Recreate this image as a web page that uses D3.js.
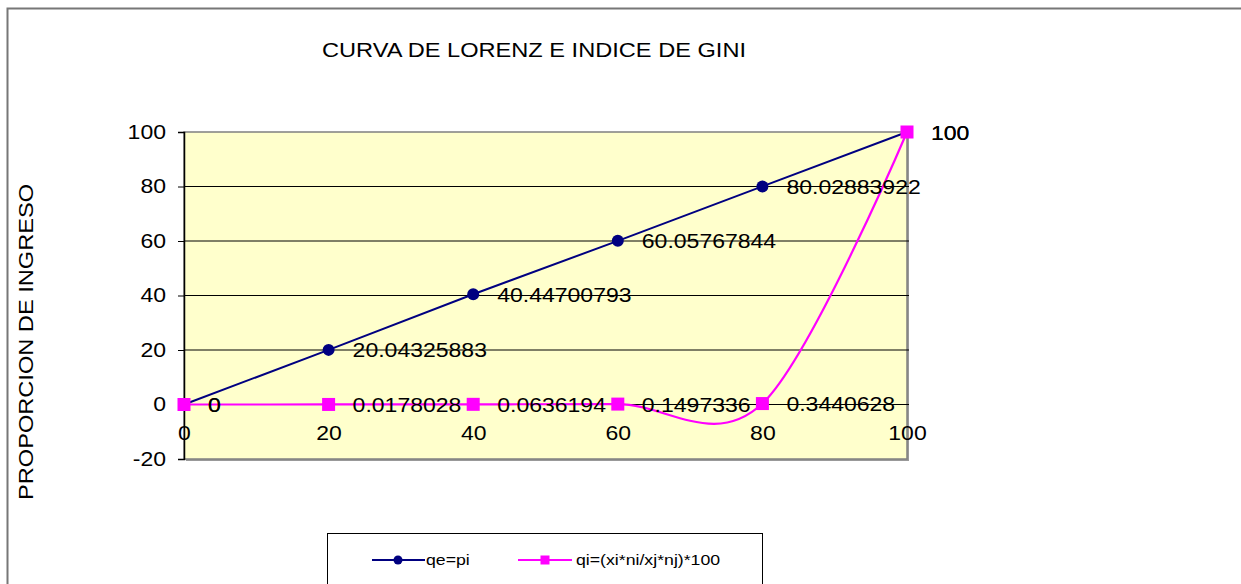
<!DOCTYPE html>
<html>
<head>
<meta charset="utf-8">
<script src="https://cdn.jsdelivr.net/npm/d3@7"></script>
<style>
body{margin:0;background:#fff;}
text{font-family:Arial,"Liberation Sans",sans-serif;fill:#000;}
</style>
</head>
<body>
<script>
// datos de la curva de Lorenz
var xVals = [0, 20, 40, 60, 80, 100];
var qe = [0, 20.04325883, 40.44700793, 60.05767844, 80.02883922, 100];
var qi = [0, 0.0178028, 0.0636194, 0.1497336, 0.3440628, 100];
var qeLabels = ["0", "20.04325883", "40.44700793", "60.05767844", "80.02883922", "100"];
var qiLabels = ["0", "0.0178028", "0.0636194", "0.1497336", "0.3440628", "100"];
var yTicks = [-20, 0, 20, 40, 60, 80, 100];
var xTicks = [0, 20, 40, 60, 80, 100];

draw();
function draw(){
	var W = 1241, H = 584;
	var svg = d3.select("body").append("svg").attr("width", W).attr("height", H);

	// marco exterior
	svg.append("rect").attr("x", 7.5).attr("y", 8.5).attr("width", 1300).attr("height", 700)
		.attr("fill", "white").attr("stroke", "#777").attr("stroke-width", 2);

	var pLeft = 184, pRight = 907, pTop = 132, pBottom = 459;
	var x = d3.scaleLinear().domain([0, 100]).range([pLeft, pRight]);
	var y = d3.scaleLinear().domain([-20, 100]).range([pBottom, pTop]);

	// area de trazado
	svg.append("rect").attr("x", pLeft + 2).attr("y", pTop + 2).attr("width", pRight - pLeft).attr("height", pBottom - pTop)
		.attr("fill", "#999");
	svg.append("rect").attr("x", pLeft).attr("y", pTop).attr("width", pRight - pLeft).attr("height", pBottom - pTop)
		.attr("fill", "#FFFFCC").attr("stroke", "#808080").attr("stroke-width", 1.5);

	// lineas de division
	svg.append("g").selectAll("line").data(yTicks.filter(function(d){ return d > -20 && d < 100; }))
		.enter().append("line")
		.attr("x1", pLeft).attr("x2", pRight + 2)
		.attr("y1", function(d){ return y(d); }).attr("y2", function(d){ return y(d); })
		.attr("stroke", "#000").attr("stroke-width", 1);

	// eje y
	var yAxis = svg.append("g").attr("transform", "translate(" + pLeft + ",0)")
		.call(d3.axisLeft(y).tickValues(yTicks).tickSize(6).tickPadding(12).tickFormat(function(d){ return String(d); }));
	yAxis.select(".domain").attr("stroke", "#000").attr("stroke-width", 1.5);
	yAxis.selectAll("text").attr("font-size", 19.5).attr("font-family", "Arial, Liberation Sans, sans-serif").attr("fill", "#000");

	// eje x (cruza en 0)
	var xAxis = svg.append("g").attr("transform", "translate(0," + y(0) + ")")
		.call(d3.axisBottom(x).tickValues(xTicks).tickSize(0).tickPadding(22).tickFormat(function(d){ return String(d); }));
	xAxis.select(".domain").remove();
	xAxis.selectAll("text").attr("font-size", 19.5).attr("font-family", "Arial, Liberation Sans, sans-serif").attr("fill", "#000");

	// serie qe=pi
	var lineStraight = d3.line().x(function(d, i){ return x(xVals[i]); }).y(function(d){ return y(d); });
	svg.append("path").datum(qe).attr("d", lineStraight)
		.attr("fill", "none").attr("stroke", "#000080").attr("stroke-width", 2);

	// serie qi suavizada
	var lineSmooth = d3.line().x(function(d, i){ return x(xVals[i]); }).y(function(d){ return y(d); })
		.curve(d3.curveCardinal.tension(0));
	svg.append("path").datum(qi).attr("d", lineSmooth)
		.attr("fill", "none").attr("stroke", "#FF00FF").attr("stroke-width", 2.2);

	svg.append("g").selectAll("circle").data(qe).enter().append("circle")
		.attr("cx", function(d, i){ return x(xVals[i]); }).attr("cy", function(d){ return y(d); })
		.attr("r", 6).attr("fill", "#000080");

	svg.append("g").selectAll("rect").data(qi).enter().append("rect")
		.attr("x", function(d, i){ return x(xVals[i]) - 6.5; }).attr("y", function(d){ return y(d) - 6.5; })
		.attr("width", 13).attr("height", 13).attr("fill", "#FF00FF");

	// etiquetas de datos
	function drawLabels(vals, labels){
		svg.append("g").selectAll("text").data(vals).enter().append("text")
			.attr("x", function(d, i){ return x(xVals[i]) + 24; })
			.attr("y", function(d){ return y(d) + 7.5; })
			.attr("font-size", 19.5)
			.text(function(d, i){ return labels[i]; });
	}
	drawLabels(qe, qeLabels);
	drawLabels(qi, qiLabels);

	// titulos
	svg.append("text").attr("x", 534).attr("y", 57).attr("text-anchor", "middle")
		.attr("font-size", 20).text("CURVA DE LORENZ E INDICE DE GINI");
	svg.append("text").attr("transform", "translate(33,342) rotate(-90)").attr("text-anchor", "middle")
		.attr("font-size", 20).text("PROPORCION DE INGRESO");

	// leyenda
	var lg = svg.append("g");
	lg.append("rect").attr("x", 327.5).attr("y", 533.5).attr("width", 435).attr("height", 80)
		.attr("fill", "white").attr("stroke", "#000").attr("stroke-width", 1);
	lg.append("line").attr("x1", 372).attr("x2", 425).attr("y1", 560).attr("y2", 560).attr("stroke", "#000080").attr("stroke-width", 2);
	lg.append("circle").attr("cx", 398).attr("cy", 560).attr("r", 4.5).attr("fill", "#000080");
	lg.append("text").attr("x", 426).attr("y", 565).attr("font-size", 15).text("qe=pi");
	lg.append("line").attr("x1", 518).attr("x2", 572).attr("y1", 560).attr("y2", 560).attr("stroke", "#FF00FF").attr("stroke-width", 2);
	lg.append("rect").attr("x", 540.5).attr("y", 555.5).attr("width", 9).attr("height", 9).attr("fill", "#FF00FF");
	lg.append("text").attr("x", 576).attr("y", 565).attr("font-size", 15).text("qi=(xi*ni/xj*nj)*100");

	// el texto del original es mas ancho que Arial: se estira en horizontal
	svg.selectAll("text").each(function(){
		var w = this.getComputedTextLength();
		d3.select(this).attr("textLength", w * 1.18).attr("lengthAdjust", "spacingAndGlyphs");
	});
}
</script>
</body>
</html>
